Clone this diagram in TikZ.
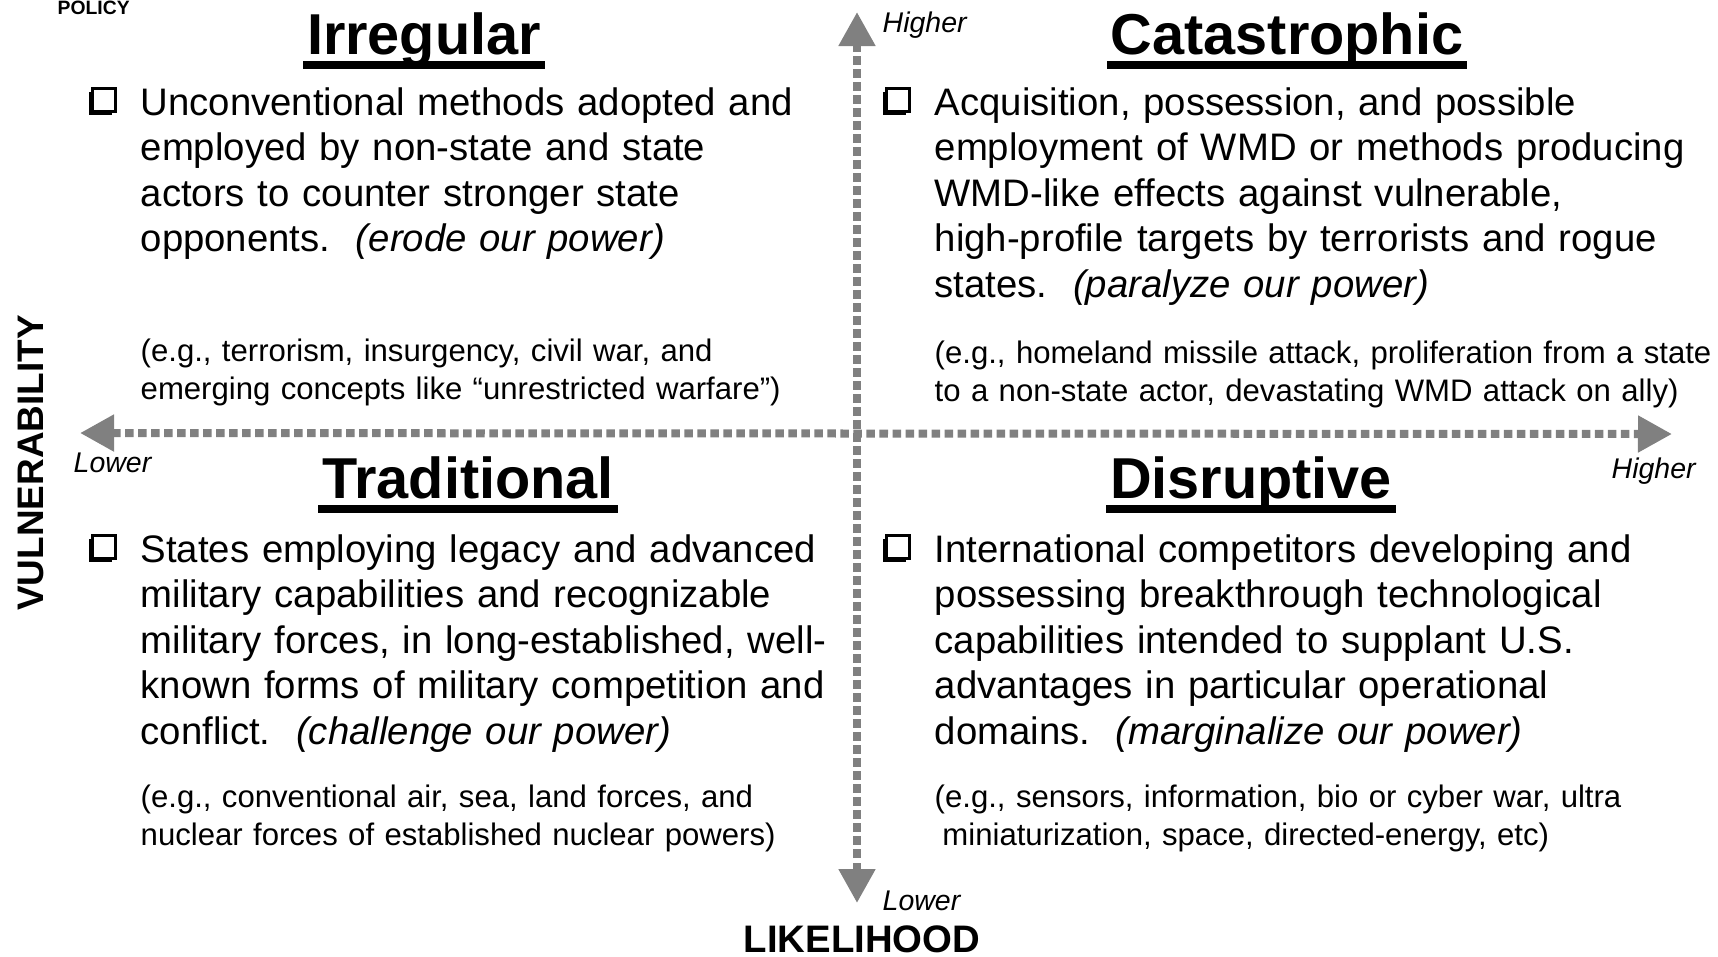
\documentclass[tikz,border=0pt]{standalone}
\usepackage{fontspec}
\setmainfont{Liberation Sans}
\usetikzlibrary{arrows.meta,shadows}
\definecolor{axisgray}{RGB}{128,128,128}

\begin{document}
\begin{tikzpicture}[x=0.01cm,y=-0.01cm,
	axis/.style={draw=axisgray,line width=0.08cm,dash pattern=on 0.085cm off 0.045cm,
		{Triangle[length=0.34cm,width=0.35cm]}-{Triangle[length=0.34cm,width=0.35cm]}},
	title/.style={inner sep=0,anchor=base,font=\fontsize{16.4}{19}\selectfont\bfseries},
	uline/.style={line width=0.08cm},
	chk/.style={draw,fill=white,line width=0.8pt,minimum size=0.23cm,inner sep=0,
		drop shadow={shadow xshift=-0.035cm,shadow yshift=-0.035cm,fill=black,opacity=1}},
	body/.style={inner sep=0,anchor=base west,text width=8cm,align=left,font=\fontsize{10.9}{12.96}\selectfont},
	eg/.style={inner sep=0,anchor=base west,text width=8.2cm,align=left,font=\fontsize{8.85}{10.8}\selectfont},
	tick/.style={inner sep=0,anchor=base west,font=\fontsize{8.1}{9}\selectfont\itshape},
	axlabel/.style={inner sep=0,font=\fontsize{10.9}{12}\selectfont\bfseries}]
		\useasboundingbox (0,0) rectangle (1718,956);
		\coordinate (vtop) at (857,12);
		\coordinate (vbot) at (857,903);
		\coordinate (hlft) at (80,433);
		\coordinate (hrgt) at (1672,434);
		\draw[axis] (vbot) -- (vtop);
		\draw[axis] (hlft) -- (hrgt);
		\node[tick] (vhigh) at (882,32) {Higher};
		\node[tick] (vlow) at (882,910) {Lower};
		\node[tick] (hlow) at (73,472) {Lower};
		\node[tick] (hhigh) at (1611,478) {Higher};
		\node[axlabel,anchor=base] (likely) at (862,952) {LIKELIHOOD};
		\node[axlabel,rotate=90,font=\fontsize{10.5}{12}\selectfont\bfseries] (vuln) at (31,463) {VULNERABILITY};
		\node[inner sep=0,anchor=base west,font=\fontsize{5.5}{6}\selectfont\bfseries] (policy) at (57,14) {POLICY};
		% titles
		\node[title] (irr) at (424,54) {Irregular};
		\node[title] (cat) at (1287,54) {Catastrophic};
		\node[title] (trad) at (468,498) {Traditional};
		\node[title] (dis) at (1251,498) {Disruptive};
		\foreach \t in {irr,cat,trad,dis}
			\draw[uline] ([shift={(-0.03cm,-0.11cm)}]\t.base west) -- ([shift={(0.03cm,-0.11cm)}]\t.base east);
		% check boxes
		\node[chk] (chkA) at (104,100) {};
		\node[chk] (chkB) at (898,100) {};
		\node[chk] (chkC) at (104,547) {};
		\node[chk] (chkD) at (898,547) {};
		% quadrant texts
		\node[body] (irrtxt) at (140,115) {Unconventional methods adopted and\\employed by non-state and state\\actors to counter stronger state\\opponents.\ \ \textit{(erode our power)}};
		\node[body] (cattxt) at (934,115) {Acquisition, possession, and possible\\employment of WMD or methods producing\\WMD-like effects against vulnerable,\\high-profile targets by terrorists and rogue\\states.\ \ \textit{(paralyze our power)}};
		\node[body] (tradtxt) at (140,562) {States employing legacy and advanced\\military capabilities and recognizable\\military forces, in long-established, well-\\known forms of military competition and\\conflict.\ \ \textit{(challenge our power)}};
		\node[body] (distxt) at (934,562) {International competitors developing and\\possessing breakthrough technological\\capabilities intended to supplant U.S.\\advantages in particular operational\\domains.\ \ \textit{(marginalize our power)}};
		\node[eg] (irreg) at (140,361) {(e.g., terrorism, insurgency, civil war, and\\emerging concepts like “unrestricted warfare”)};
		\node[eg] (categ) at (934,363) {(e.g., homeland missile attack, proliferation from a state\\to a non-state actor, devastating WMD attack on ally)};
		\node[eg] (tradeg) at (140,807) {(e.g., conventional air, sea, land forces, and\\nuclear forces of established nuclear powers)};
		\node[eg] (diseg) at (934,807) {(e.g., sensors, information, bio or cyber war, ultra\\\hspace{0.25em}miniaturization, space, directed-energy, etc)};
\end{tikzpicture}
\end{document}
